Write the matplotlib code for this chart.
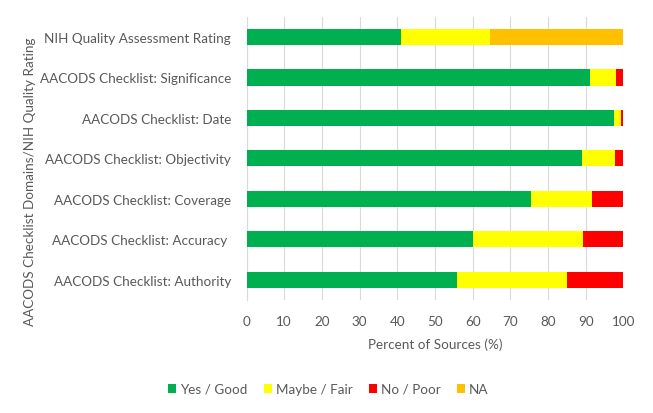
import matplotlib
matplotlib.use("Agg")
import matplotlib.pyplot as plt
import numpy as np

categories = ["AACODS Checklist: Authority", "AACODS Checklist: Accuracy ",
              "AACODS Checklist: Coverage", "AACODS Checklist: Objectivity",
              "AACODS Checklist: Date", "AACODS Checklist: Significance",
              "NIH Quality Assessment Rating"]
yes_good = [55.8, 60.0, 75.4, 89.1, 97.5, 91.2, 41.0]
maybe_fair = [29.3, 29.4, 16.2, 8.8, 2.0, 6.9, 23.6]
no_poor = [14.9, 10.6, 8.4, 2.1, 0.5, 1.9, 0.0]
na = [0.0, 0.0, 0.0, 0.0, 0.0, 0.0, 35.4]
series_names = ["Yes / Good", "Maybe / Fair", "No / Poor", "NA"]
xticks = list(range(0, 101, 10))

plt.rcParams['font.family'] = ['Lato', 'DejaVu Sans']
fs = 9.7
fig = plt.figure(figsize=(6.53, 4.14), dpi=100)
ax = fig.add_axes([0.3775, 0.273, 0.577, 0.684])

colors = ["#00B050", "#FFFF00", "#FF0000", "#FFC000"]
y = np.arange(len(categories))
left = np.zeros(len(categories))
for vals, c, name in zip([yes_good, maybe_fair, no_poor, na], colors, series_names):
    ax.barh(y, vals, left=left, height=0.4, color=c, label=name, zorder=3)
    left += np.array(vals)

ax.set_xlim(0, 100)
ax.set_ylim(-0.5, len(categories) - 0.5)
ax.set_xticks(xticks)
ax.set_yticks(y)
ax.set_yticklabels(categories)
ax.grid(axis='x', color='#D9D9D9', linewidth=0.8, zorder=0)
for s in ['top', 'right', 'bottom']:
    ax.spines[s].set_visible(False)
ax.spines['left'].set_color('#D9D9D9')
ax.tick_params(axis='y', length=0, labelsize=fs, colors='#595959', pad=11)
ax.tick_params(axis='x', length=0, labelsize=fs, colors='#595959', pad=11)
ax.set_xlabel("Percent of Sources (%)", fontsize=fs, color='#595959', labelpad=7)
fig.text(0.046, 0.56, "AACODS Checklist Domains/NIH Quality Rating", rotation=90,
         ha='center', va='center', fontsize=fs, color='#595959')

handles, labels = ax.get_legend_handles_labels()
fig.legend(handles, labels, loc='center', bbox_to_anchor=(0.503, 0.058), ncol=4,
           frameon=False, fontsize=fs, handlelength=0.6, handleheight=0.6,
           handletextpad=0.3, columnspacing=1.2, labelcolor='#595959')

fig.savefig("out.png", dpi=100)
